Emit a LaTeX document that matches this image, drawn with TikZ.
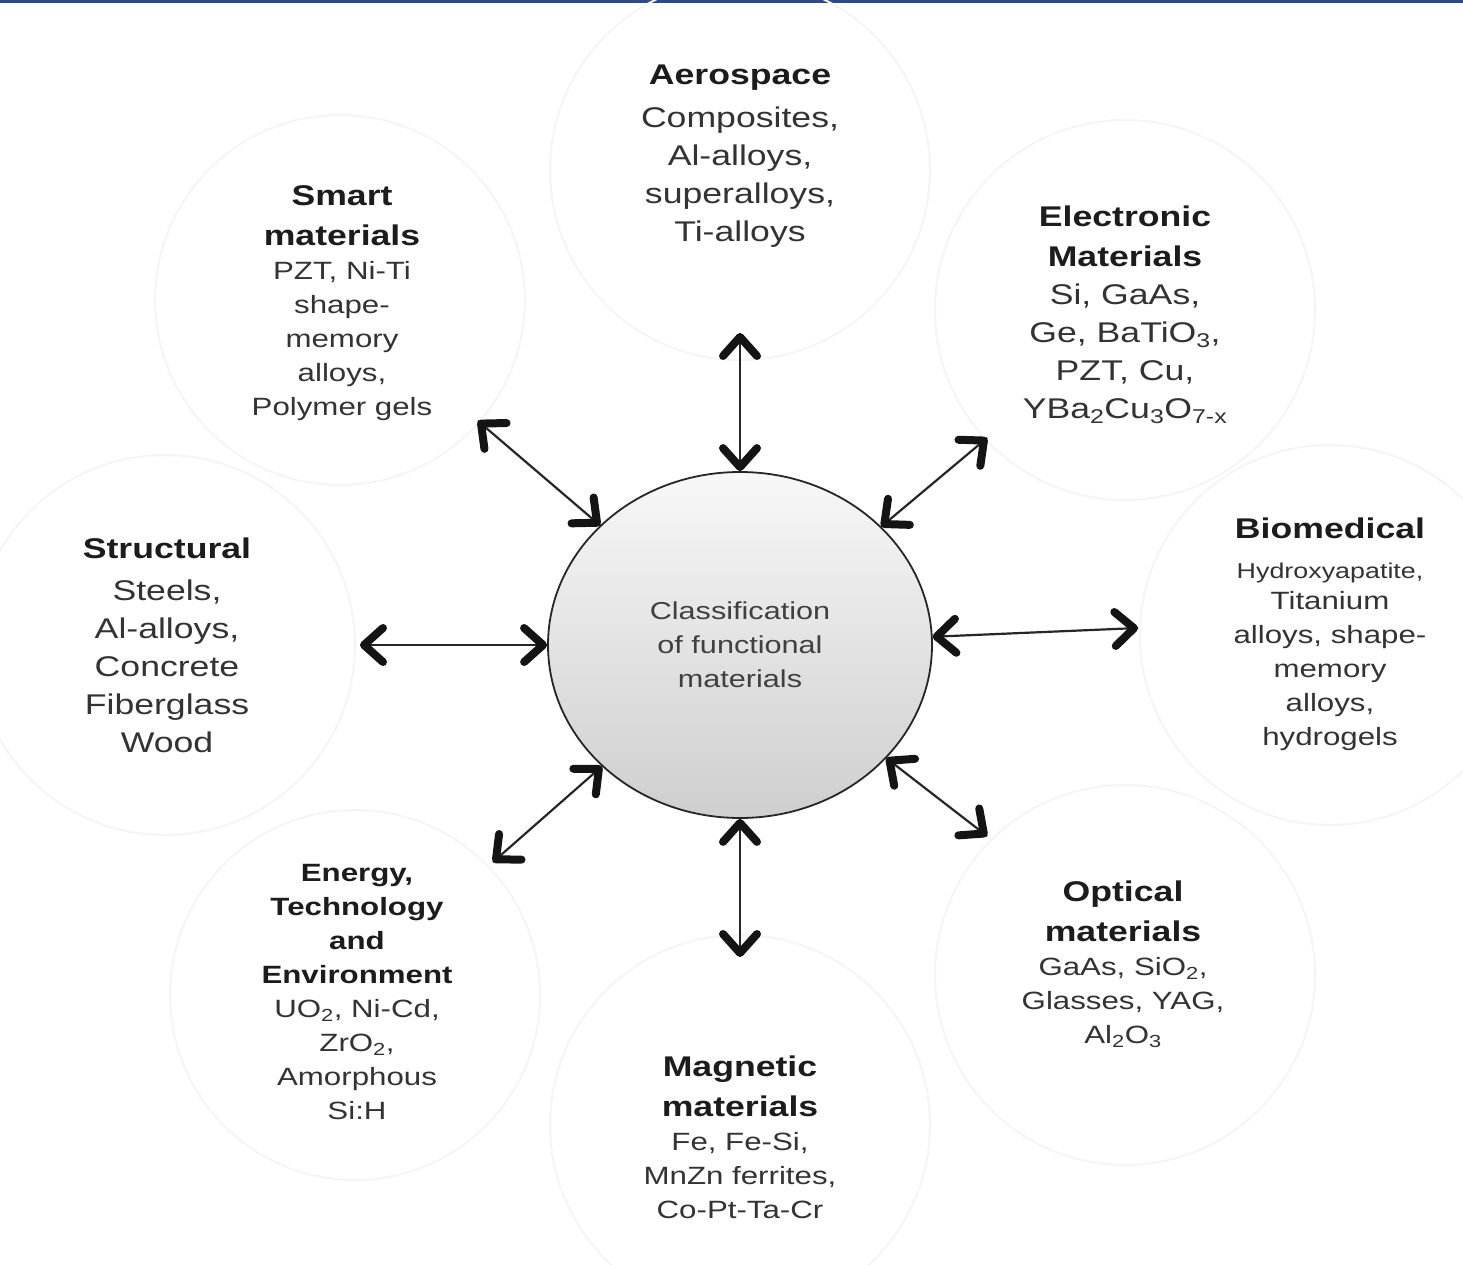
\documentclass[tikz,border=0pt]{standalone}
\usepackage{fontspec}
\setmainfont[FakeStretch=1.25]{Liberation Sans}
\usetikzlibrary{calc,shapes.geometric}
\definecolor{topbar}{RGB}{47,75,135}
\definecolor{txtc}{RGB}{51,51,51}
\definecolor{ttlc}{RGB}{28,28,28}
\newcommand{\Ttl}[1]{{\color{ttlc}\bfseries\fontsize{28.5}{38}\selectfont #1}}
\newcommand{\Tsm}[1]{{\color{ttlc}\bfseries #1}}
% chevron tip: apex near #1, pointing away from #2
\newcommand{\chevtip}[2]{%
  \draw[chevsty] ($(#1)!4pt!(#2)!19pt!(#2)!17pt!90:(#2)$) -- ($(#1)!4pt!(#2)$) -- ($(#1)!4pt!(#2)!19pt!(#2)!17pt!-90:(#2)$);}
\newcommand{\twoway}[2]{%
  \draw[shaft] (#1) -- (#2);
  \chevtip{#1}{#2}\chevtip{#2}{#1}}
\begin{document}
\begin{tikzpicture}[x=1pt,y=-1pt,
  halo/.style={draw=black!4, line width=2pt},
  grp/.style={align=center, text=txtc, inner sep=0pt, font=\fontsize{25}{34}\selectfont},
  big/.style={font=\fontsize{28.5}{38}\selectfont},
  shaft/.style={line width=2.2pt, draw=black!85},
  chevsty/.style={line width=8pt, draw=black!92, line cap=round, line join=round}
]
\useasboundingbox (0,0) rectangle (1463,1265);
\clip (0,0) rectangle (1463,1265);
\fill[white] (0,0) rectangle (1463,1265);
\fill[topbar] (0,0) rectangle (1463,3.5);

% faint surrounding circles
\draw[halo] (740,170) circle[radius=190];
\draw[halo] (340,300) circle[radius=185];
\draw[halo] (1125,310) circle[radius=190];
\draw[halo] (165,645) circle[radius=190];
\draw[halo] (1330,635) circle[radius=190];
\draw[halo] (355,995) circle[radius=185];
\draw[halo] (1125,975) circle[radius=190];
\draw[halo] (740,1125) circle[radius=190];

% central node
\node[ellipse, draw=black!85, line width=1.8pt, minimum width=384pt, minimum height=346pt,
      inner sep=0pt, top color=black!3, bottom color=black!19, align=center,
      text=black!75, font=\fontsize{24.5}{34}\selectfont] (cen) at (740,645)
      {Classification\\of functional\\materials};

% arrow outer ends
\coordinate (aT) at (740,333);
\coordinate (bT) at (740,957);
\coordinate (lT) at (360,645);
\coordinate (rT) at (1138,628);
\coordinate (ulT) at (478,421);
\coordinate (urT) at (987,438);
\coordinate (llT) at (493,862);
\coordinate (lrT) at (987,836);
% inner ends on the border of the central node
\path (aT) -- (cen.north) coordinate[pos=1] (aI);
\path (bT) -- (cen.south) coordinate[pos=1] (bI);
\path (lT) -- (cen.west) coordinate[pos=1] (lI);
\path (rT) -- (cen) coordinate[pos=1] (rI);
\path (ulT) -- (cen) coordinate[pos=1] (ulI);
\path (urT) -- (cen) coordinate[pos=1] (urI);
\path (llT) -- (cen) coordinate[pos=1] (llI);
\path (lrT) -- (cen) coordinate[pos=1] (lrI);
\twoway{aT}{aI}
\twoway{bT}{bI}
\twoway{lT}{lI}
\twoway{rT}{rI}
\twoway{ulT}{ulI}
\twoway{urT}{urI}
\twoway{llT}{llI}
\twoway{lrT}{lrI}

% category texts
\node[grp,big] (aero) at (740,156) {\Ttl{Aerospace}\\[5pt]Composites,\\Al-alloys,\\superalloys,\\Ti-alloys};
\node[grp] (smart) at (342,303) {\Ttl{Smart}\\[6pt]\Ttl{materials}\\PZT, Ni-Ti\\shape-\\memory\\alloys,\\Polymer gels};
\node[grp,big] (elec) at (1125,315) {\Ttl{Electronic}\\[2pt]\Ttl{Materials}\\Si, GaAs,\\Ge, BaTiO\textsubscript{3},\\PZT, Cu,\\YBa\textsubscript{2}Cu\textsubscript{3}O\textsubscript{7-x}};
\node[grp] (bio) at (1330,634) {\Ttl{Biomedical}\\[6pt]{\fontsize{21.5}{30}\selectfont Hydroxyapatite,}\\[-3pt]Titanium\\alloys, shape-\\memory\\alloys,\\hydrogels};
\node[grp,big] (struct) at (167,645) {\Ttl{Structural}\\[4pt]Steels,\\Al-alloys,\\Concrete\\Fiberglass\\Wood};
\node[grp] (energy) at (357,992) {\Tsm{Energy,}\\\Tsm{Technology}\\\Tsm{and}\\\Tsm{Environment}\\UO\textsubscript{2}, Ni-Cd,\\ZrO\textsubscript{2},\\Amorphous\\Si:H};
\node[grp] (opt) at (1123,964) {\Ttl{Optical}\\[6pt]\Ttl{materials}\\GaAs, SiO\textsubscript{2},\\Glasses, YAG,\\Al\textsubscript{2}O\textsubscript{3}};
\node[grp] (mag) at (740,1137) {\Ttl{Magnetic}\\[6pt]\Ttl{materials}\\Fe, Fe-Si,\\MnZn ferrites,\\Co-Pt-Ta-Cr};
\end{tikzpicture}
\end{document}
